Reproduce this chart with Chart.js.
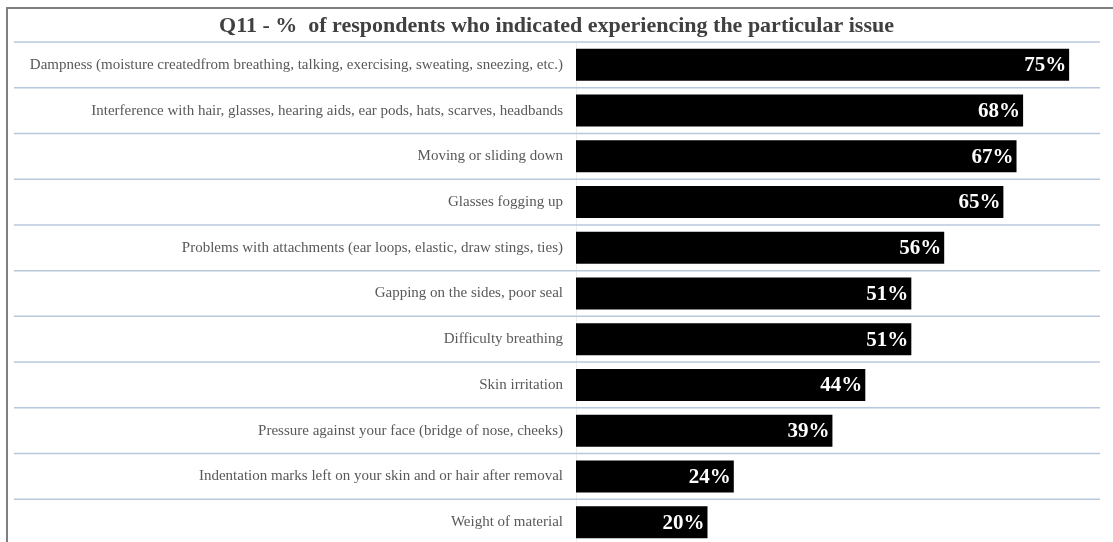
<!DOCTYPE html>
<html>
<head>
<meta charset="utf-8">
<script src="https://cdn.jsdelivr.net/npm/chart.js@4.4.0/dist/chart.umd.min.js"></script>
<style>
  html, body { margin: 0; padding: 0; background: #fff; overflow: hidden; }
  #issues-chart { display: block; }
</style>
</head>
<body>
<canvas id="issues-chart" width="1113" height="548"></canvas>
<script>
const titleText = 'Q11 - %  of respondents who indicated experiencing the particular issue';
const issues = [
  'Dampness (moisture createdfrom breathing, talking, exercising, sweating, sneezing, etc.)',
  'Interference with hair, glasses, hearing aids, ear pods, hats, scarves, headbands',
  'Moving or sliding down',
  'Glasses fogging up',
  'Problems with attachments (ear loops, elastic, draw stings, ties)',
  'Gapping on the sides, poor seal',
  'Difficulty breathing',
  'Skin irritation',
  'Pressure against your face (bridge of nose, cheeks)',
  'Indentation marks left on your skin and or hair after removal',
  'Weight of material'
];
const percentages = [75, 68, 67, 65, 56, 51, 51, 44, 39, 24, 20];
const axisMax = 80;

const serif = "'Liberation Serif', 'Times New Roman', serif";

// frame, title and full-width row separators
const framePlugin = {
  id: 'frame',
  beforeDatasetsDraw(chart) {
    const ctx = chart.ctx;
    const yScale = chart.scales.y;
    const area = chart.chartArea;
    ctx.save();

    ctx.strokeStyle = '#7f7f7f';
    ctx.lineWidth = 2;
    ctx.beginPath();
    ctx.moveTo(7, chart.height);
    ctx.lineTo(7, 8);
    ctx.lineTo(chart.width, 8);
    ctx.stroke();

    ctx.strokeStyle = '#b8c8dc';
    ctx.lineWidth = 1.5;
    for (let i = 0; i <= issues.length; i++) {
      let py;
      if (i === 0) py = area.top;
      else if (i === issues.length) py = area.bottom;
      else py = (yScale.getPixelForValue(i - 1) + yScale.getPixelForValue(i)) / 2;
      ctx.beginPath();
      ctx.moveTo(14, py);
      ctx.lineTo(1100, py);
      ctx.stroke();
    }

    ctx.fillStyle = '#404040';
    ctx.font = 'bold 22px ' + serif;
    ctx.textAlign = 'center';
    ctx.textBaseline = 'middle';
    ctx.fillText(titleText, chart.width / 2, 26);
    ctx.restore();
  },
  afterDatasetsDraw(chart) {
    const ctx = chart.ctx;
    const meta = chart.getDatasetMeta(0);
    ctx.save();
    ctx.fillStyle = '#ffffff';
    ctx.font = 'bold 21px ' + serif;
    ctx.textAlign = 'right';
    ctx.textBaseline = 'middle';
    meta.data.forEach(function (bar, i) {
      ctx.fillText(percentages[i] + '%', bar.x - 3, bar.y + 1);
    });
    ctx.restore();
  }
};

window.addEventListener('DOMContentLoaded', function () {
  const ctx = document.getElementById('issues-chart').getContext('2d');
  new Chart(ctx, {
    type: 'bar',
    data: {
      labels: issues,
      datasets: [{
        data: percentages,
        backgroundColor: '#000000',
        borderWidth: 0,
        categoryPercentage: 0.7,
        barPercentage: 1
      }]
    },
    options: {
      indexAxis: 'y',
      responsive: false,
      animation: false,
      layout: { padding: { top: 42, right: 11, bottom: 3, left: 0 } },
      plugins: {
        legend: { display: false },
        tooltip: { enabled: false },
        title: { display: false }
      },
      scales: {
        x: { display: false, min: 0, max: axisMax },
        y: {
          grid: { display: false },
          border: { display: true, color: '#ececec', width: 1 },
          ticks: {
            color: '#595959',
            padding: 5,
            autoSkip: false,
            font: { family: serif, size: 15 }
          },
          afterFit: function (scale) {
            scale.width = 576;
            scale.paddingTop = 0;
            scale.paddingBottom = 0;
          }
        }
      }
    },
    plugins: [framePlugin]
  });
});
</script>
</body>
</html>
